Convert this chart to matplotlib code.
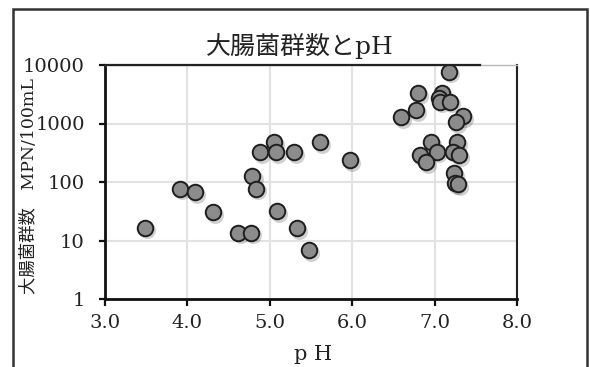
import matplotlib
matplotlib.use("Agg")
import matplotlib.pyplot as plt
import matplotlib.transforms as mtransforms
from matplotlib.patches import Rectangle

# Data
ph = [3.49, 3.91, 4.09, 4.31, 4.62, 4.77, 4.79, 4.83, 4.88, 5.05, 5.08, 5.09,
      5.29, 5.33, 5.47, 5.61, 5.97,
      7.17, 6.80, 7.09, 7.05, 7.06, 7.19, 6.77, 6.59, 7.34, 7.26,
      6.96, 7.27, 7.03, 6.82, 7.22, 7.30, 6.90, 7.23, 7.25, 7.28]
coliform = [16.6, 77, 68, 31, 13.6, 13.6, 128, 77, 321, 477, 321, 32,
            321, 16.5, 6.8, 477, 235,
            7700, 3280, 3330, 2700, 2360, 2360, 1700, 1280, 1340, 1070,
            477, 477, 330, 290, 330, 290, 217, 141, 95, 92]

x_ticks = [3.0, 4.0, 5.0, 6.0, 7.0, 8.0]
x_tick_labels = ["3.0", "4.0", "5.0", "6.0", "7.0", "8.0"]
y_ticks = [1, 10, 100, 1000, 10000]
y_tick_labels = ["1", "10", "100", "1000", "10000"]

title = "大腸菌群数とpH"
xlabel = "p H"
ylabel = "大腸菌群数　MPN/100mL"

serif = ["DejaVu Serif", "Noto Sans CJK JP"]

fig = plt.figure(figsize=(5.9, 3.67), dpi=100)
ax = fig.add_axes([105/590, 1-299/367, (517-105)/590, (299-65)/367])

ax.set_yscale("log")
ax.set_xlim(3.0, 8.0)
ax.set_ylim(1, 10000)

ax.grid(True, color="#e2e2e2", linewidth=1.5, zorder=0)
ax.set_axisbelow(True)

# soft shadow
shadow_tr = mtransforms.offset_copy(ax.transData, fig=fig, x=1.5, y=-2.0, units="points")
ax.scatter(ph, coliform, s=150, color="#000000", alpha=0.18, linewidths=0,
           transform=shadow_tr, zorder=2)
ax.scatter(ph, coliform, s=125, facecolor="#8c8c8c", edgecolor="#1e1e1e",
           linewidths=1.4, zorder=3)

ax.set_xticks(x_ticks)
ax.set_xticklabels(x_tick_labels, fontfamily=serif, fontsize=14)
ax.set_yticks(y_ticks)
ax.set_yticklabels(y_tick_labels, fontfamily=serif, fontsize=14)
ax.minorticks_off()
ax.tick_params(axis="x", direction="out", length=5, width=1.6, pad=6, color="#111111",
               labelcolor="#222222")
ax.tick_params(axis="y", direction="out", length=4.5, width=1.6, pad=10, color="#111111",
               labelcolor="#222222")

for side in ["left", "bottom"]:
    ax.spines[side].set_linewidth(2.0)
    ax.spines[side].set_color("#111111")
ax.spines["right"].set_linewidth(1.5)
ax.spines["right"].set_color("#222222")
ax.spines["top"].set_linewidth(1.0)
ax.spines["top"].set_color("#bbbbbb")
ax.plot([3.0, 7.55], [10000, 10000], color="#222222", linewidth=1.6,
        clip_on=False, zorder=4)

fig.text(300/590, 1-46/367, title, fontfamily=serif, fontsize=18,
         ha="center", va="center", color="#222222")
fig.text(313/590, 1-354/367, xlabel, fontfamily=serif, fontsize=15,
         ha="center", va="center", color="#222222")
fig.text(30/590, 1-186/367, ylabel, fontfamily=serif, fontsize=12.5,
         ha="center", va="center", rotation=90, color="#222222")

# outer frame
fig.patches.append(Rectangle((13/590, -0.05), (587-13)/590, 1.05-9/367,
                             transform=fig.transFigure, fill=False,
                             edgecolor="#333333", linewidth=1.8, clip_on=False))

fig.savefig("out.png", dpi=100)
